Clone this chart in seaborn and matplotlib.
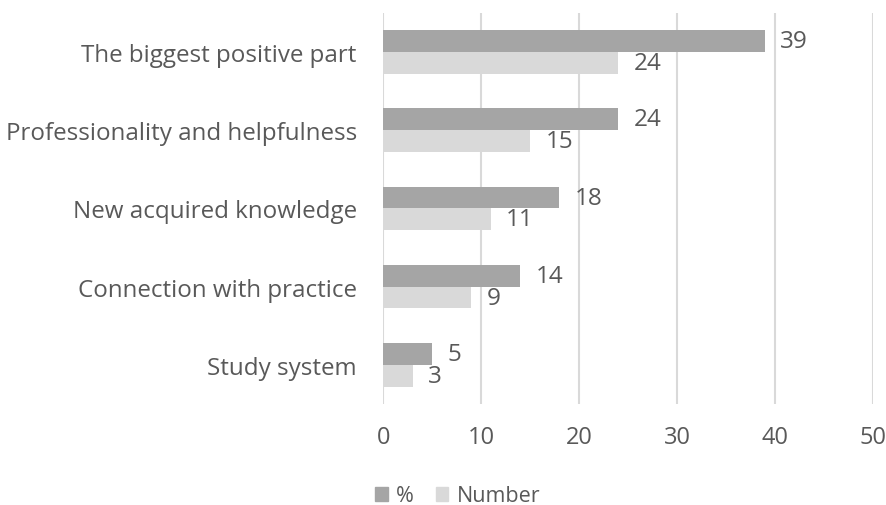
import matplotlib
matplotlib.use("Agg")
import matplotlib.pyplot as plt
import seaborn as sns
import pandas as pd

categories = ["The biggest positive part", "Professionality and helpfulness",
              "New acquired knowledge", "Connection with practice", "Study system"]
pct = [39, 24, 18, 14, 5]
number = [24, 15, 11, 9, 3]
series = ["%", "Number"]
xticks = [0, 10, 20, 30, 40, 50]

df = pd.DataFrame({
    "cat": categories * 2,
    "val": pct + number,
    "series": [series[0]] * len(categories) + [series[1]] * len(categories),
})

sns.set_theme(style="white")
plt.rcParams["font.family"] = ["Open Sans", "DejaVu Sans"]
txt = "#595959"

fig = plt.figure(figsize=(8.87, 5.06), dpi=100)
ax = fig.add_axes([0.432, 0.200, 0.552, 0.772])
sns.barplot(data=df, y="cat", x="val", hue="series", order=categories,
            hue_order=series, palette=["#A5A5A5", "#D9D9D9"], width=0.56,
            orient="h", ax=ax, legend=True, saturation=1, linewidth=0)
for c in ax.containers:
    ax.bar_label(c, labels=[f"{int(v)}" for v in c.datavalues], padding=11,
                 fontsize=17.5, color=txt)
ax.set_xlim(0, 50)
ax.set_xticks(xticks)
ax.xaxis.grid(True, color="#D9D9D9", linewidth=1.5)
ax.set_axisbelow(True)
for s in ax.spines.values():
    s.set_visible(False)
ax.set_xlabel("")
ax.set_ylabel("")
ax.tick_params(axis="x", labelsize=17, colors=txt, length=0, pad=15)
ax.tick_params(axis="y", labelsize=17.4, colors=txt, length=0, pad=19)
ax.legend_.remove()
handles = [plt.Rectangle((0, 0), 1, 1, color=c) for c in ["#A5A5A5", "#D9D9D9"]]
fig.legend(handles, series, loc="center", bbox_to_anchor=(0.516, 0.018), ncol=2,
           frameon=False, fontsize=15.5, labelcolor=txt, handlelength=0.6,
           handleheight=0.6, handletextpad=0.4, columnspacing=1.0)
fig.savefig("out.png", dpi=100)
